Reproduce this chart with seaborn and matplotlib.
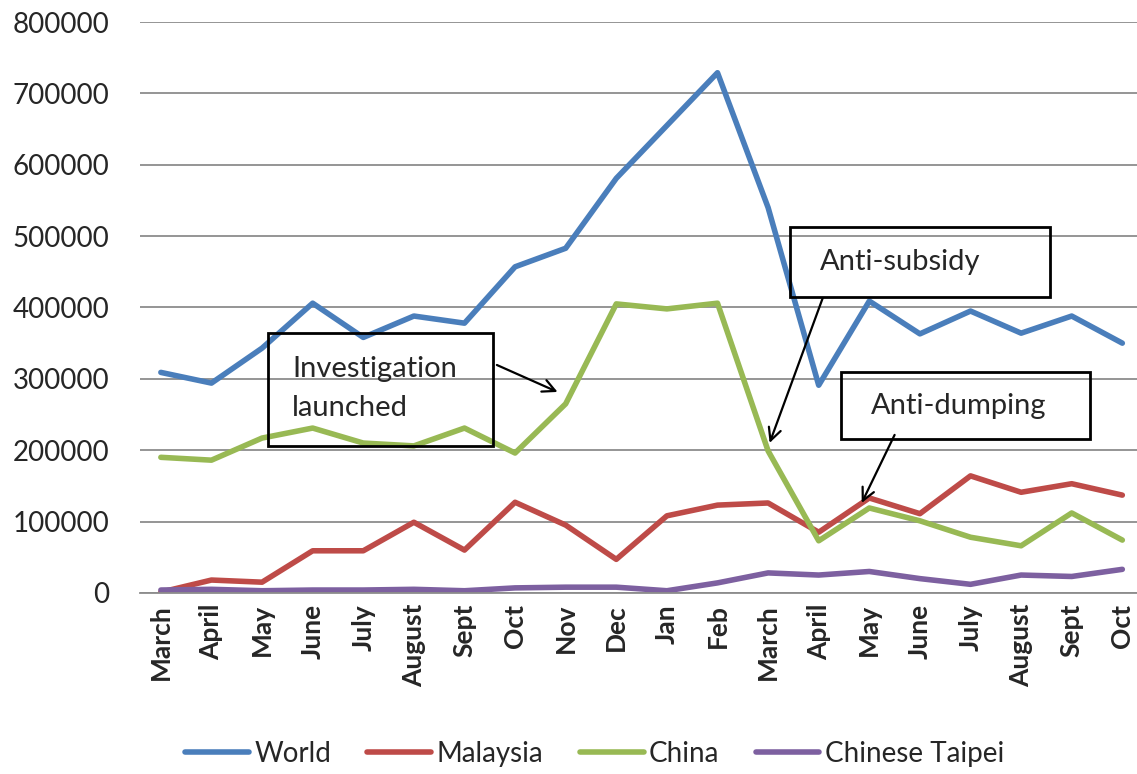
import numpy as np
import pandas as pd
import matplotlib
import matplotlib.pyplot as plt
import seaborn as sns
from matplotlib.patches import Rectangle
from matplotlib import font_manager

# -----------------------------
# Data
# -----------------------------
months = ["March", "April", "May", "June", "July", "August", "Sept", "Oct", "Nov", "Dec",
          "Jan", "Feb", "March", "April", "May", "June", "July", "August", "Sept", "Oct"]

world = [309000, 294000, 343000, 406000, 358000, 388000, 378000, 457000, 483000, 581000,
         655000, 729000, 540000, 291000, 409000, 363000, 395000, 364000, 388000, 350000]
malaysia = [1000, 18000, 15000, 59000, 59000, 99000, 60000, 127000, 95000, 47000,
            108000, 123000, 126000, 85000, 133000, 111000, 164000, 141000, 153000, 137000]
china = [190000, 186000, 217000, 231000, 210000, 206000, 231000, 196000, 265000, 405000,
         398000, 406000, 199000, 73000, 119000, 101000, 78000, 66000, 112000, 74000]
taipei = [4000, 5000, 3000, 4000, 4000, 5000, 3000, 7000, 8000, 8000,
          3000, 14000, 28000, 25000, 30000, 20000, 12000, 25000, 23000, 33000]

series_names = ["World", "Malaysia", "China", "Chinese Taipei"]
colors = ["#4a7ebb", "#be4b48", "#98b954", "#7d60a0"]

df = pd.DataFrame({"idx": np.arange(len(months)),
                   "World": world, "Malaysia": malaysia,
                   "China": china, "Chinese Taipei": taipei})
long = df.melt(id_vars="idx", var_name="series", value_name="value")

# -----------------------------
# Plot
# -----------------------------
sns.set_style("white")
installed = {f.name for f in font_manager.fontManager.ttflist}
main_font = "Lato" if "Lato" in installed else "DejaVu Sans"
legend_font = "Liberation Sans Narrow" if "Liberation Sans Narrow" in installed else main_font
plt.rcParams["font.family"] = [main_font, "DejaVu Sans"]

fig = plt.figure(figsize=(11.37, 7.74), dpi=100)
ax = fig.add_axes([0.123, 0.234, 0.877, 0.7375])

sns.lineplot(data=long, x="idx", y="value", hue="series", hue_order=series_names,
             palette=colors, linewidth=4, sort=False, ax=ax, legend=False)

ax.set_ylim(0, 800000)
ax.set_xlim(-0.415, 19.29)
ax.set_yticks(np.arange(0, 800001, 100000))
ax.set_yticklabels([str(v) for v in range(0, 800001, 100000)], fontsize=20)
ax.set_xticks(np.arange(len(months)))
ax.set_xticklabels(months, rotation=90, fontsize=19, fontweight="bold")
ax.tick_params(axis="x", length=0, pad=8)
ax.tick_params(axis="y", length=0, pad=22)
ax.set_xlabel("")
ax.set_ylabel("")
ax.grid(axis="y", color="#8c8c8c", linewidth=1.3)
ax.set_axisbelow(True)
for s in ["top", "right", "left"]:
    ax.spines[s].set_visible(False)
ax.spines["bottom"].set_color("#8c8c8c")
ax.spines["bottom"].set_linewidth(1.3)

# -----------------------------
# Annotation boxes and arrows
# -----------------------------
arrow = dict(arrowstyle="->,head_length=0.9,head_width=0.45", color="black", lw=1.6,
             shrinkA=0, shrinkB=0)

ax.add_patch(Rectangle((2.11, 206000), 4.45, 158300, fill=False, ec="black", lw=2, zorder=5))
ax.text(2.59, 286500, "Investigation\nlaunched", fontsize=21, va="center", ha="left",
        linespacing=1.6, zorder=6)
ax.annotate("", xy=(7.84, 281600), xytext=(6.64, 319400), arrowprops=arrow, zorder=6)

ax.add_patch(Rectangle((12.44, 414700), 5.14, 98100, fill=False, ec="black", lw=2, zorder=5))
ax.text(13.02, 463700, "Anti-subsidy", fontsize=21, va="center", ha="left", zorder=6)
ax.annotate("", xy=(12.03, 210150), xytext=(13.08, 413300), arrowprops=arrow, zorder=6)

ax.add_patch(Rectangle((13.45, 215750), 4.92, 93850, fill=False, ec="black", lw=2, zorder=5))
ax.text(14.04, 262000, "Anti-dumping", fontsize=21, va="center", ha="left", zorder=6)
ax.annotate("", xy=(13.85, 126100), xytext=(14.50, 221400), arrowprops=arrow, zorder=6)

# -----------------------------
# Legend
# -----------------------------
handles = [plt.Line2D([], [], color=c, lw=4) for c in colors]
fig.legend(handles, series_names, loc="center", bbox_to_anchor=(0.523, 0.026), ncol=4,
           frameon=False, handlelength=2.3, handletextpad=0.2, columnspacing=1.3,
           prop={"family": [legend_font, "DejaVu Sans"], "size": 20})

plt.savefig("out.png", dpi=100)
